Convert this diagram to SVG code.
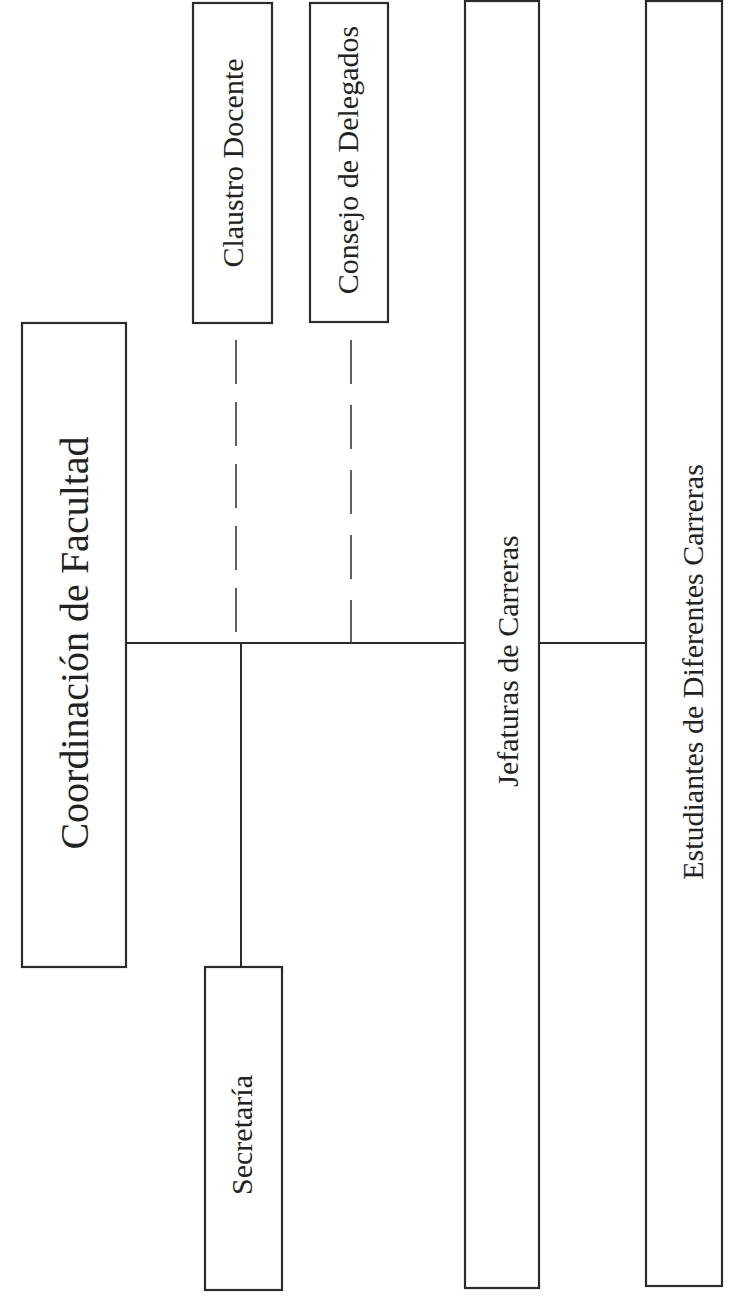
<svg xmlns="http://www.w3.org/2000/svg" width="732" height="1296" viewBox="0 0 732 1296">
<style>
.box{fill:#fff;stroke:#2b2b2b;stroke-width:2.2}
.lbl{font-family:"Liberation Serif","Times New Roman",serif;fill:#222;text-anchor:middle}
.ln{stroke:#2b2b2b;stroke-width:2;fill:none}
.dash{stroke:#3a3a3a;stroke-width:1.6;fill:none}
</style>
<rect width="732" height="1296" fill="#fff"/>
<g id="connectors">
<line class="ln" x1="126" y1="643" x2="465" y2="643"/>
<line class="ln" x1="539" y1="643" x2="646" y2="643"/>
<line class="ln" x1="241" y1="643" x2="241" y2="967"/>
<line class="dash" stroke-dasharray="44 18" x1="236" y1="340" x2="236" y2="643"/>
<line class="dash" stroke-dasharray="44 21" x1="351" y1="340" x2="351" y2="643"/>
</g>
<g id="coordinacion">
<rect class="box" x="22" y="323" width="104" height="644"/>
<text class="lbl" font-size="40" transform="translate(88,643) rotate(-90)">Coordinación de Facultad</text>
</g>
<g id="claustro">
<rect class="box" x="193" y="3" width="79" height="320"/>
<text class="lbl" font-size="30" transform="translate(243,163) rotate(-90)">Claustro Docente</text>
</g>
<g id="consejo">
<rect class="box" x="310" y="3" width="78" height="319"/>
<text class="lbl" font-size="30" transform="translate(358,160) rotate(-90)">Consejo de Delegados</text>
</g>
<g id="jefaturas">
<rect class="box" x="465" y="1" width="74" height="1287"/>
<text class="lbl" font-size="30" transform="translate(518,661) rotate(-90)">Jefaturas de Carreras</text>
</g>
<g id="estudiantes">
<rect class="box" x="646" y="1" width="76" height="1285"/>
<text class="lbl" font-size="30" transform="translate(703,672) rotate(-90)">Estudiantes de Diferentes Carreras</text>
</g>
<g id="secretaria">
<rect class="box" x="205" y="967" width="77" height="323"/>
<text class="lbl" font-size="30" transform="translate(252,1135) rotate(-90)">Secretaría</text>
</g>
</svg>
